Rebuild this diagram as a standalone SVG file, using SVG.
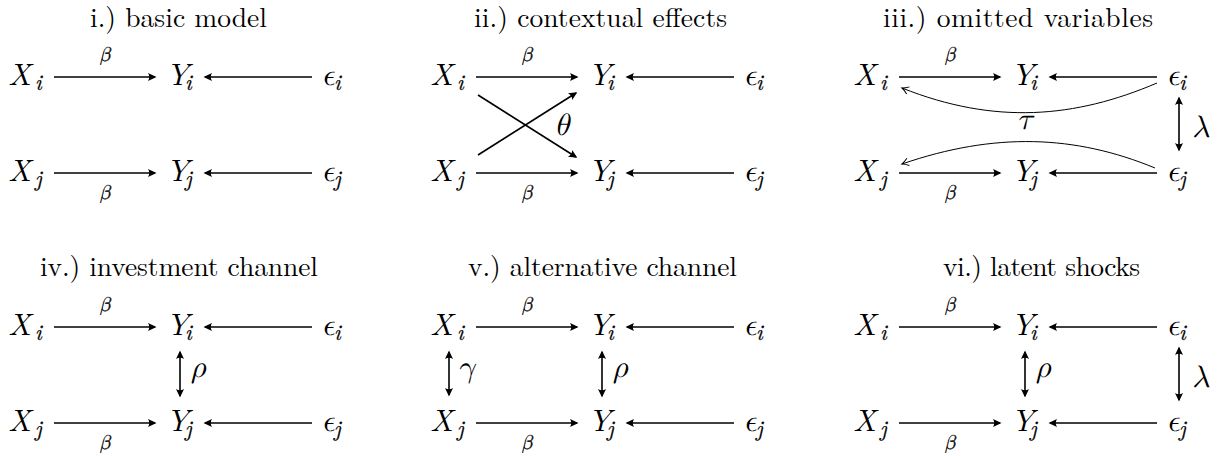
<svg xmlns="http://www.w3.org/2000/svg" width="1225" height="456" viewBox="0 0 1225 456">
<defs>
<style>
.title{font-size:27.5px;fill:#000;text-anchor:middle}
.v{font-style:italic;font-size:31px;fill:#000}
.s{font-size:22px;stroke:#000;stroke-width:0.25}
.lab{font-style:italic;font-size:20px;fill:#000;stroke:#000;stroke-width:0.35;text-anchor:middle}
.g{font-style:italic;font-size:31px;fill:#000}
.a{fill:none;stroke:#000;stroke-width:1.6;marker-end:url(#ah)}
.d{fill:none;stroke:#000;stroke-width:1.6;marker-start:url(#ah);marker-end:url(#ah)}
.c{fill:none;stroke:#000;stroke-width:1;marker-end:url(#oh)}
</style>
<marker id="ah" viewBox="-10 -5 12 10" refX="-1.5" refY="0" markerWidth="12" markerHeight="10" markerUnits="userSpaceOnUse" orient="auto-start-reverse">
<path d="M0,0 L-8.5,-4 Q-6,0 -8.5,4 Z" fill="#000"/>
</marker>
<marker id="oh" viewBox="-8 -5 10 10" refX="0" refY="0" markerWidth="10" markerHeight="10" markerUnits="userSpaceOnUse" orient="auto">
<path d="M-6.5,-3.8 Q-2.5,-0.8 0,0 Q-2.5,0.8 -6.5,3.8" fill="none" stroke="#000" stroke-width="1"/>
</marker>
</defs>
<rect width="1225" height="456" fill="#fff"/>

<g id="titles" font-family="'Latin Modern Roman', 'Liberation Serif', serif">
<text class="title" x="178.5" y="27" textLength="177">i.) basic model</text>
<text class="title" x="600.5" y="27" textLength="253">ii.) contextual effects</text>
<text class="title" x="1018" y="27" textLength="270">iii.) omitted variables</text>
<text class="title" x="179" y="276" textLength="278">iv.) investment channel</text>
<text class="title" x="602.5" y="276" textLength="269">v.) alternative channel</text>
<text class="title" x="1041.5" y="276" textLength="197">vi.) latent shocks</text>
</g>

<g id="connectors" font-family="'Latin Modern Math', 'Liberation Serif', serif">
<g id="c1">
<path class="a" d="M54 77H155"/><path class="a" d="M312 77H205"/>
<path class="a" d="M54 173H155"/><path class="a" d="M312 173H205"/>
<text class="lab" x="105" y="61">β</text><text class="lab" x="105" y="199">β</text>
</g>
<g id="c2">
<path class="a" d="M476 77H577"/><path class="a" d="M734 77H627"/>
<path class="a" d="M476 173H577"/><path class="a" d="M734 173H627"/>
<path class="a" d="M478 95L576 157"/><path class="a" d="M478 155L576 93"/>
<text class="lab" x="527" y="61">β</text><text class="lab" x="527" y="199">β</text>
<text class="g" x="554" y="135">θ</text>
</g>
<g id="c3">
<path class="a" d="M899 77H1000"/><path class="a" d="M1157 77H1050"/>
<path class="a" d="M899 173H1000"/><path class="a" d="M1157 173H1050"/>
<path class="c" d="M1157 83C1075 118 995 125 902 88"/>
<path class="c" d="M1155 168C1075 135 995 132 902 164"/>
<path class="d" d="M1179 98V150"/>
<text class="lab" x="950" y="61">β</text><text class="lab" x="950" y="199">β</text>
<text class="g" x="1017" y="129">τ</text>
<text class="g" x="1192" y="137">λ</text>
</g>
<g id="c4">
<path class="a" d="M54 327H155"/><path class="a" d="M312 327H205"/>
<path class="a" d="M54 423H155"/><path class="a" d="M312 423H205"/>
<path class="d" d="M180 352V396"/>
<text class="lab" x="105" y="311">β</text><text class="lab" x="105" y="449">β</text>
<text class="g" x="191" y="377">ρ</text>
</g>
<g id="c5">
<path class="a" d="M476 327H577"/><path class="a" d="M734 327H627"/>
<path class="a" d="M476 423H577"/><path class="a" d="M734 423H627"/>
<path class="d" d="M449 352V395"/>
<path class="d" d="M602 352V396"/>
<text class="lab" x="527" y="311">β</text><text class="lab" x="527" y="449">β</text>
<text class="g" x="457" y="377">γ</text>
<text class="g" x="613" y="377">ρ</text>
</g>
<g id="c6">
<path class="a" d="M899 327H1000"/><path class="a" d="M1157 327H1050"/>
<path class="a" d="M899 423H1000"/><path class="a" d="M1157 423H1050"/>
<path class="d" d="M1025 352V396"/>
<path class="d" d="M1179 348V400"/>
<text class="lab" x="950" y="311">β</text><text class="lab" x="950" y="449">β</text>
<text class="g" x="1036" y="377">ρ</text>
<text class="g" x="1192" y="387">λ</text>
</g>
</g>

<g id="nodes" font-family="'Latin Modern Roman', 'Liberation Serif', serif">
<g id="p1">
<g id="p1-Xi"><text class="v" x="8" y="85">X<tspan class="s" x="35" y="90">i</tspan></text></g>
<g id="p1-Yi"><text class="v" x="166" y="85">Y<tspan class="s" x="185" y="90">i</tspan></text></g>
<g id="p1-Ei"><text class="v" x="321" y="85"><tspan font-family="'Latin Modern Math', 'DejaVu Serif', serif">ϵ</tspan><tspan class="s" x="334" y="90">i</tspan></text></g>
<g id="p1-Xj"><text class="v" x="8" y="181">X<tspan class="s" x="35" y="186">j</tspan></text></g>
<g id="p1-Yj"><text class="v" x="166" y="181">Y<tspan class="s" x="185" y="186">j</tspan></text></g>
<g id="p1-Ej"><text class="v" x="321" y="181"><tspan font-family="'Latin Modern Math', 'DejaVu Serif', serif">ϵ</tspan><tspan class="s" x="334" y="186">j</tspan></text></g>
</g>
<g id="p2">
<g id="p2-Xi"><text class="v" x="430" y="85">X<tspan class="s" x="457" y="90">i</tspan></text></g>
<g id="p2-Yi"><text class="v" x="588" y="85">Y<tspan class="s" x="607" y="90">i</tspan></text></g>
<g id="p2-Ei"><text class="v" x="743" y="85"><tspan font-family="'Latin Modern Math', 'DejaVu Serif', serif">ϵ</tspan><tspan class="s" x="756" y="90">i</tspan></text></g>
<g id="p2-Xj"><text class="v" x="430" y="181">X<tspan class="s" x="457" y="186">j</tspan></text></g>
<g id="p2-Yj"><text class="v" x="588" y="181">Y<tspan class="s" x="607" y="186">j</tspan></text></g>
<g id="p2-Ej"><text class="v" x="743" y="181"><tspan font-family="'Latin Modern Math', 'DejaVu Serif', serif">ϵ</tspan><tspan class="s" x="756" y="186">j</tspan></text></g>
</g>
<g id="p3">
<g id="p3-Xi"><text class="v" x="853" y="85">X<tspan class="s" x="880" y="90">i</tspan></text></g>
<g id="p3-Yi"><text class="v" x="1011" y="85">Y<tspan class="s" x="1030" y="90">i</tspan></text></g>
<g id="p3-Ei"><text class="v" x="1166" y="85"><tspan font-family="'Latin Modern Math', 'DejaVu Serif', serif">ϵ</tspan><tspan class="s" x="1179" y="90">i</tspan></text></g>
<g id="p3-Xj"><text class="v" x="853" y="181">X<tspan class="s" x="880" y="186">j</tspan></text></g>
<g id="p3-Yj"><text class="v" x="1011" y="181">Y<tspan class="s" x="1030" y="186">j</tspan></text></g>
<g id="p3-Ej"><text class="v" x="1166" y="181"><tspan font-family="'Latin Modern Math', 'DejaVu Serif', serif">ϵ</tspan><tspan class="s" x="1179" y="186">j</tspan></text></g>
</g>
<g id="p4">
<g id="p4-Xi"><text class="v" x="8" y="335">X<tspan class="s" x="35" y="340">i</tspan></text></g>
<g id="p4-Yi"><text class="v" x="166" y="335">Y<tspan class="s" x="185" y="340">i</tspan></text></g>
<g id="p4-Ei"><text class="v" x="321" y="335"><tspan font-family="'Latin Modern Math', 'DejaVu Serif', serif">ϵ</tspan><tspan class="s" x="334" y="340">i</tspan></text></g>
<g id="p4-Xj"><text class="v" x="8" y="431">X<tspan class="s" x="35" y="436">j</tspan></text></g>
<g id="p4-Yj"><text class="v" x="166" y="431">Y<tspan class="s" x="185" y="436">j</tspan></text></g>
<g id="p4-Ej"><text class="v" x="321" y="431"><tspan font-family="'Latin Modern Math', 'DejaVu Serif', serif">ϵ</tspan><tspan class="s" x="334" y="436">j</tspan></text></g>
</g>
<g id="p5">
<g id="p5-Xi"><text class="v" x="430" y="335">X<tspan class="s" x="457" y="340">i</tspan></text></g>
<g id="p5-Yi"><text class="v" x="588" y="335">Y<tspan class="s" x="607" y="340">i</tspan></text></g>
<g id="p5-Ei"><text class="v" x="743" y="335"><tspan font-family="'Latin Modern Math', 'DejaVu Serif', serif">ϵ</tspan><tspan class="s" x="756" y="340">i</tspan></text></g>
<g id="p5-Xj"><text class="v" x="430" y="431">X<tspan class="s" x="457" y="436">j</tspan></text></g>
<g id="p5-Yj"><text class="v" x="588" y="431">Y<tspan class="s" x="607" y="436">j</tspan></text></g>
<g id="p5-Ej"><text class="v" x="743" y="431"><tspan font-family="'Latin Modern Math', 'DejaVu Serif', serif">ϵ</tspan><tspan class="s" x="756" y="436">j</tspan></text></g>
</g>
<g id="p6">
<g id="p6-Xi"><text class="v" x="853" y="335">X<tspan class="s" x="880" y="340">i</tspan></text></g>
<g id="p6-Yi"><text class="v" x="1011" y="335">Y<tspan class="s" x="1030" y="340">i</tspan></text></g>
<g id="p6-Ei"><text class="v" x="1166" y="335"><tspan font-family="'Latin Modern Math', 'DejaVu Serif', serif">ϵ</tspan><tspan class="s" x="1179" y="340">i</tspan></text></g>
<g id="p6-Xj"><text class="v" x="853" y="431">X<tspan class="s" x="880" y="436">j</tspan></text></g>
<g id="p6-Yj"><text class="v" x="1011" y="431">Y<tspan class="s" x="1030" y="436">j</tspan></text></g>
<g id="p6-Ej"><text class="v" x="1166" y="431"><tspan font-family="'Latin Modern Math', 'DejaVu Serif', serif">ϵ</tspan><tspan class="s" x="1179" y="436">j</tspan></text></g>
</g>
</g>
</svg>
